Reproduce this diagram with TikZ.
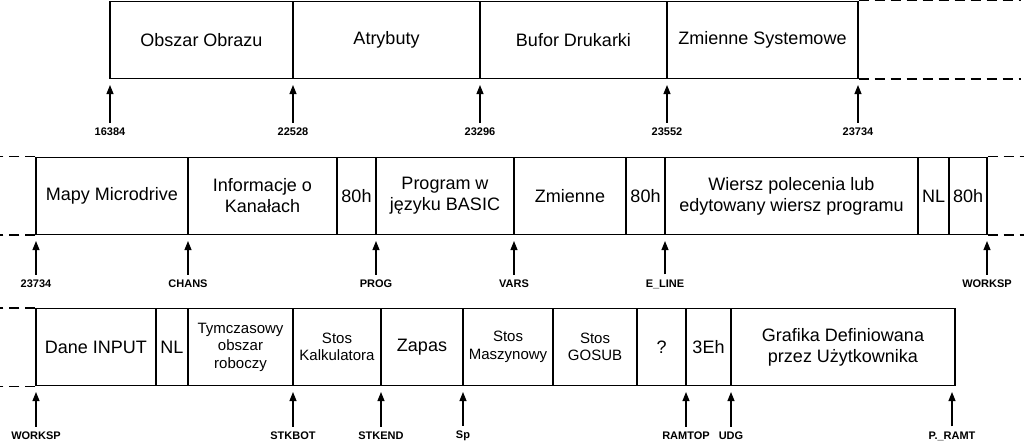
\documentclass[tikz,border=0pt]{standalone}
\usepackage{fontspec}
\setmainfont{Liberation Sans}
\usetikzlibrary{arrows.meta,positioning}

\begin{document}
\begin{tikzpicture}[
    x=1pt, y=-1pt,
    cell/.style={
        rectangle, draw, line width=1.1pt, inner sep=0pt,
        minimum height=77pt, align=center, font=\fontsize{18}{21}\selectfont
    },
    small/.style={font=\fontsize{15}{17.5}\selectfont},
    addr/.style={font=\bfseries\fontsize{11}{12}\selectfont, inner sep=1pt},
    ptr/.style={-{Triangle[length=9pt,width=7pt]}, line width=1.1pt, shorten <=4pt, shorten >=6pt},
    ext/.style={dashed, dash pattern=on 10pt off 6pt, line width=1.1pt}
]
\useasboundingbox (0,0) rectangle (1024,443);

% Row 1
\node[cell, minimum width=183pt] (obraz) at (201.5,40) {Obszar Obrazu};
\node[cell, minimum width=187pt] (atr) at (386.5,40) {Atrybuty};
\node[cell, minimum width=187pt] (bufor) at (573.5,40) {Bufor Drukarki};
\node[cell, minimum width=191pt] (zmsys) at (762.5,40) {Zmienne Systemowe};
\draw[ext] (zmsys.north east) -- ++(162,0);
\draw[ext] (zmsys.south east) -- ++(162,0);

\node[addr] (a16384) at (110,132) {16384};
\node[addr] (a22528) at (293,132) {22528};
\node[addr] (a23296) at (480,132) {23296};
\node[addr] (a23552) at (667,132) {23552};
\node[addr] (a23734) at (858,132) {23734};
\foreach \n in {a16384,a22528,a23296,a23552,a23734}
    \draw[ptr] (\n.north) -- (\n.north |- obraz.south);

% Row 2
\node[cell, minimum width=152pt] (mapy) at (112,196) {Mapy Microdrive};
\node[cell, minimum width=149pt] (kanal) at (262.5,196) {Informacje o\\Kanałach};
\node[cell, minimum width=39pt] (m80a) at (356.5,196) {80h};
\node[cell, minimum width=138pt] (prog) at (445,196) {Program w\\języku BASIC};
\node[cell, minimum width=112pt] (zmienne) at (570,196) {Zmienne};
\node[cell, minimum width=39pt] (m80b) at (645.5,196) {80h};
\node[cell, minimum width=253pt] (wiersz) at (791.5,196) {Wiersz polecenia lub\\edytowany wiersz programu};
\node[cell, minimum width=31pt] (nla) at (933.5,196) {NL};
\node[cell, minimum width=38pt] (m80c) at (968,196) {80h};
\draw[ext] (mapy.north west) -- ++(-36,0);
\draw[ext] (mapy.south west) -- ++(-36,0);
\draw[ext] (m80c.north east) -- ++(37,0);
\draw[ext] (m80c.south east) -- ++(37,0);

\node[addr] (b23734) at (36,284) {23734};
\node[addr] (chans) at (188,284) {CHANS};
\node[addr] (progl) at (376,284) {PROG};
\node[addr] (vars) at (514,284) {VARS};
\node[addr] (eline) at (665,284) {E\_LINE};
\node[addr] (worka) at (987,284) {WORKSP};
\foreach \n in {b23734,chans,progl,vars,eline,worka}
    \draw[ptr] (\n.north) -- (\n.north |- mapy.south);

% Row 3
\node[cell, minimum width=120pt] (input) at (96,347) {Dane INPUT};
\node[cell, minimum width=32pt] (nlb) at (172,347) {NL};
\node[cell, small, minimum width=105pt] (tymcz) at (240.5,347) {Tymczasowy\\obszar\\roboczy};
\node[cell, small, minimum width=88pt] (kalk) at (337,347) {Stos\\Kalkulatora};
\node[cell, minimum width=82pt] (zapas) at (422,347) {Zapas};
\node[cell, small, minimum width=90pt] (maszyn) at (508,347) {Stos\\Maszynowy};
\node[cell, small, minimum width=84pt] (gosub) at (595,347) {Stos\\GOSUB};
\node[cell, minimum width=49pt] (pyt) at (661.5,347) {?};
\node[cell, minimum width=45pt] (e3h) at (708.5,347) {3Eh};
\node[cell, minimum width=224pt] (udg) at (843,347) {Grafika Definiowana\\przez Użytkownika};
\draw[ext] (input.north west) -- ++(-36,0);
\draw[ext] (input.south west) -- ++(-36,0);

\node[addr] (workb) at (36,436) {WORKSP};
\node[addr] (stkbot) at (293,436) {STKBOT};
\node[addr] (stkend) at (381,436) {STKEND};
\node[addr] (sp) at (463,436) {Sp};
\node[addr] (ramtop) at (686,436) {RAMTOP};
\node[addr] (udgl) at (731,436) {UDG};
\node[addr] (pramt) at (952,436) {P.\_RAMT};
\foreach \n in {workb,stkbot,stkend,sp,ramtop,udgl,pramt}
    \draw[ptr] (\n.north) -- (\n.north |- input.south);

\end{tikzpicture}
\end{document}
